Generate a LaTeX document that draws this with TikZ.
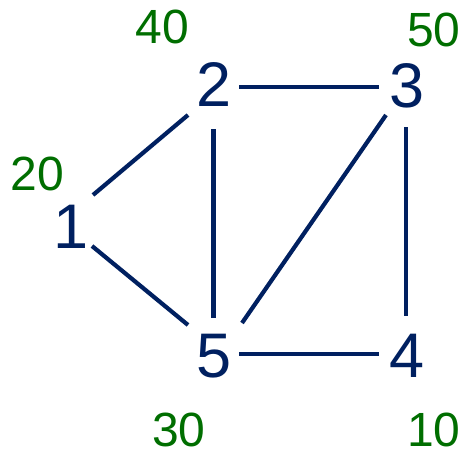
\documentclass[tikz,border=0pt]{standalone}
\usepackage{fontspec}
\setmainfont{Liberation Sans}
\usetikzlibrary{calc}
\definecolor{navy}{RGB}{0,32,96}
\definecolor{wgreen}{RGB}{0,110,0}
\tikzset{
  vtx/.style={inner sep=0pt, text=navy, font=\fontsize{63}{63}\selectfont},
  wt/.style={inner sep=0pt, text=wgreen, font=\fontsize{48}{48}\selectfont},
  edge/.style={draw=navy, line width=4.2pt}
}
\begin{document}
\begin{tikzpicture}[x=1pt,y=-1pt]
\useasboundingbox (0,0) rectangle (466,452);
\node[vtx] (n1) at (71,226.5) {1};
\node[vtx] (n2) at (214.5,84.5) {2};
\node[vtx] (n3) at (407.5,85.5) {3};
\node[vtx] (n4) at (407,356) {4};
\node[vtx] (n5) at (214.5,356) {5};
\node[wt] (w2) at (162.5,26.5) {40};
\node[wt] (w3) at (434,30) {50};
\node[wt] (w1) at (37.5,174) {20};
\node[wt] (w5) at (179,429.5) {30};
\node[wt] (w4) at (434,429.5) {10};
\draw[edge] ($(n2)+(24.5,2.5)$) -- ($(n3)+(-28.5,1.5)$);
\draw[edge] ($(n2)+(-1,44.5)$) -- ($(n5)+(-1,-38)$);
\draw[edge] ($(n3)+(-1.5,41.5)$) -- ($(n4)+(-1,-40)$);
\draw[edge] ($(n5)+(24.5,-2)$) -- ($(n4)+(-28,-2)$);
\draw[edge] ($(n1)+(22,-31.5)$) -- ($(n2)+(-26.5,30.5)$);
\draw[edge] ($(n1)+(21,19.5)$) -- ($(n5)+(-26.5,-31)$);
\draw[edge] ($(n3)+(-21.5,29.5)$) -- ($(n5)+(27.5,-33)$);
\end{tikzpicture}
\end{document}
